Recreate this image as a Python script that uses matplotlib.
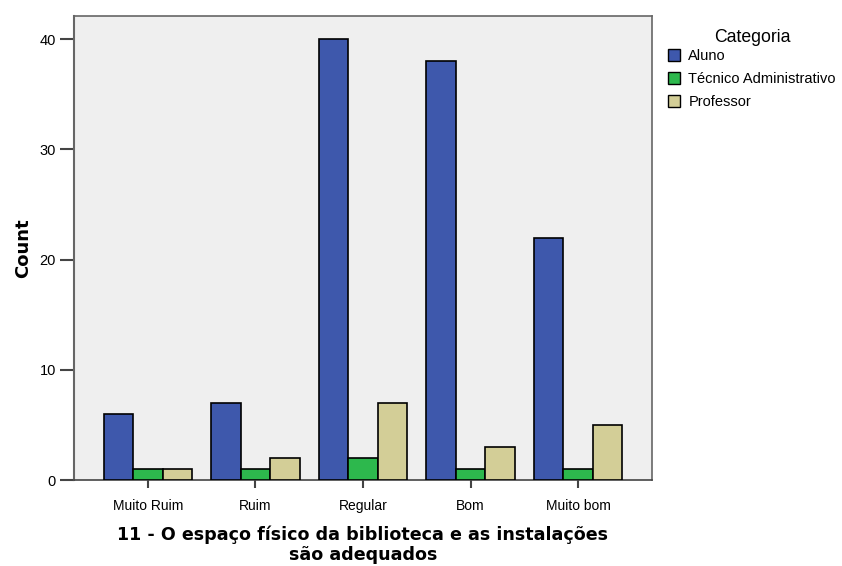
import numpy as np
import matplotlib.pyplot as plt
from matplotlib.patches import Patch

categories = ['Muito Ruim', 'Ruim', 'Regular', 'Bom', 'Muito bom']
aluno = [6, 7, 40, 38, 22]
tecnico = [1, 1, 2, 1, 1]
professor = [1, 2, 7, 3, 5]
series_names = ['Aluno', 'Técnico Administrativo', 'Professor']
colors = ['#3e58ac', '#2db84d', '#d3ce97']

fig = plt.figure(figsize=(8.42, 5.66), dpi=100)
ax = fig.add_axes([74 / 842, 1 - 480 / 566, (652 - 74) / 842, (480 - 16) / 566])
ax.set_facecolor('#efefef')

x = np.arange(len(categories))
w = 0.275
for i, vals in enumerate([aluno, tecnico, professor]):
    ax.bar(x + (i - 1) * w, vals, width=w, color=colors[i],
           edgecolor='black', linewidth=1.2, zorder=3)

ax.set_xlim(-0.688, 4.688)
ax.set_ylim(0, 42.1)
ax.set_yticks([0, 10, 20, 30, 40])
ax.set_xticks(x)
ax.set_xticklabels(categories, family='Liberation Sans', fontsize=10)
for lab in ax.get_yticklabels():
    lab.set_family('Liberation Sans')
    lab.set_fontsize(10.5)
ax.tick_params(axis='y', length=10, width=1.5, color='#444444', pad=3)
ax.tick_params(axis='x', length=6, width=1.5, color='#444444', pad=8)

for s in ax.spines.values():
    s.set_color('#666666')
    s.set_linewidth(1.2)
ax.spines['left'].set_linewidth(1.5)
ax.spines['bottom'].set_color('#444444')

ax.set_ylabel('Count', fontsize=13, fontweight='bold', family='DejaVu Sans', labelpad=5)
ax.set_xlabel('11 - O espaço físico da biblioteca e as instalações\nsão adequados',
              fontsize=12.6, fontweight='bold', family='DejaVu Sans', labelpad=9,
              linespacing=1.1)

# legend title drawn separately so it sits closer to the entries
fig.text(752 / 842, 1 - 37 / 566, 'Categoria', ha='center', va='center',
         family='Liberation Sans', fontsize=12.7)
handles = [Patch(facecolor=c, edgecolor='black', linewidth=1) for c in colors]
leg = ax.legend(handles, series_names, loc='upper left',
                bbox_to_anchor=(665 / 842, 1 - 46 / 566), bbox_transform=fig.transFigure,
                frameon=False, prop={'family': 'Liberation Sans', 'size': 10.5},
                handlelength=0.85, handleheight=0.85, handletextpad=0.55,
                labelspacing=0.62, borderaxespad=0, borderpad=0.2)

fig.savefig('out.png', dpi=100)
